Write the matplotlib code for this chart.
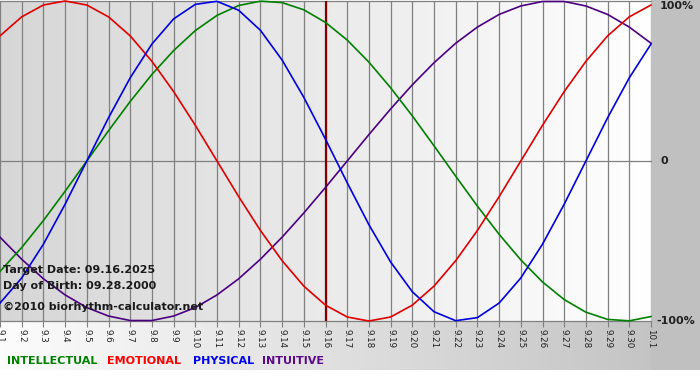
import matplotlib
matplotlib.use("Agg")
import matplotlib.pyplot as plt
import numpy as np

# days shown on the chart
days = ['9.1', '9.2', '9.3', '9.4', '9.5', '9.6', '9.7', '9.8', '9.9', '9.10',
        '9.11', '9.12', '9.13', '9.14', '9.15', '9.16', '9.17', '9.18', '9.19', '9.20',
        '9.21', '9.22', '9.23', '9.24', '9.25', '9.26', '9.27', '9.28', '9.29', '9.30', '10.1']
target_day = '9.16'

# cycle values per day (-1 .. 1)
physical = [-0.888, -0.731, -0.520, -0.270, 0.000, 0.270, 0.520, 0.731, 0.888, 0.979,
            0.998, 0.942, 0.817, 0.631, 0.398, 0.136, -0.136, -0.398, -0.631, -0.817,
            -0.942, -0.998, -0.979, -0.888, -0.731, -0.520, -0.270, 0.000, 0.270, 0.520, 0.731]
emotional = [0.782, 0.901, 0.975, 1.000, 0.975, 0.901, 0.782, 0.623, 0.434, 0.223,
             0.000, -0.223, -0.434, -0.623, -0.782, -0.901, -0.975, -1.000, -0.975, -0.901,
             -0.782, -0.623, -0.434, -0.223, 0.000, 0.223, 0.434, 0.623, 0.782, 0.901, 0.975]
intellectual = [-0.690, -0.541, -0.372, -0.189, 0.000, 0.189, 0.372, 0.541, 0.690, 0.815,
                0.910, 0.972, 0.999, 0.990, 0.945, 0.866, 0.756, 0.618, 0.458, 0.282,
                0.095, -0.095, -0.282, -0.458, -0.618, -0.756, -0.866, -0.945, -0.990, -0.999, -0.972]
intuitive = [-0.476, -0.614, -0.736, -0.837, -0.916, -0.969, -0.997, -0.997, -0.969, -0.916,
             -0.837, -0.736, -0.614, -0.476, -0.325, -0.165, 0.000, 0.165, 0.325, 0.476,
             0.614, 0.736, 0.837, 0.916, 0.969, 0.997, 0.997, 0.969, 0.916, 0.837, 0.736]

W, H = 700, 380
fig = plt.figure(figsize=(7, 3.8), dpi=100)
fig.patch.set_facecolor('white')

# background: grey right margin and gradient band under the plot
bg = fig.add_axes([0, 0, 1, 1], zorder=-5)
bg.set_xlim(0, W)
bg.set_ylim(H, 0)
bg.axis('off')
grad = np.linspace(0.99, 0.77, 256)
band = np.dstack([grad, grad, grad])[0][None, :, :]
bg.imshow(band, extent=(0, 651, 370, 321), aspect='auto', interpolation='bilinear')
bg.add_patch(plt.Rectangle((651, 0), 49, 370, color='#c0c0c0', lw=0))

ax = fig.add_axes([0, 59 / H, 651 / W, 320 / H])
x = np.arange(len(days))
ax.set_xlim(0, len(days) - 1)
ax.set_ylim(-1, 1)

# plot area gradient grey -> white
g = np.linspace(0.84, 1.0, 256)
ax.imshow(np.dstack([g, g, g]), extent=(0, len(days) - 1, -1, 1), aspect='auto',
          interpolation='bilinear', zorder=0)

for xi in x:
    ax.axvline(xi, color='#808080', lw=0.9, zorder=1)
for yv in (-1, 0, 1):
    ax.axhline(yv, color='#808080', lw=0.9, zorder=1, clip_on=False)

ax.axvline(days.index(target_day), color='#800000', lw=1.6, zorder=2)

ax.plot(x, intuitive, color='#4b0082', lw=1.2, zorder=3, clip_on=False)
ax.plot(x, intellectual, color='#008000', lw=1.2, zorder=3, clip_on=False)
ax.plot(x, emotional, color='#e00000', lw=1.2, zorder=3, clip_on=False)
ax.plot(x, physical, color='#0000e0', lw=1.2, zorder=3, clip_on=False)

for s in ax.spines.values():
    s.set_visible(False)
ax.set_xticks(x)
ax.set_xticklabels(days, rotation=-90, fontsize=6.3, color='#202020')
ax.tick_params(axis='x', length=4, color='#808080', pad=1.5)
ax.set_yticks([])

tr = ax.get_yaxis_transform()
ax.text(1.014, 1.0, '100%', transform=tr, ha='left', va='top', fontsize=8,
        fontweight='bold', color='#202020', clip_on=False)
ax.text(1.014, 0.0, '0', transform=tr, ha='left', va='center', fontsize=8,
        fontweight='bold', color='#202020', clip_on=False)
ax.text(1.008, -1.0, '-100%', transform=tr, ha='left', va='center', fontsize=8,
        fontweight='bold', color='#202020', clip_on=False)

# info texts over the plot
txt = dict(fontsize=8, fontweight='bold', color='#1a1a1a', va='center', zorder=10)
fig.text(3 / W, 1 - 270 / H, 'Target Date: 09.16.2025', **txt)
fig.text(3 / W, 1 - 286 / H, 'Day of Birth: 09.28.2000', **txt)
fig.text(3 / W, 1 - 307 / H, '\u00a92010 biorhythm-calculator.net', **txt)

# legend row
leg = [('INTELLECTUAL', '#008000', 7), ('EMOTIONAL', '#ff0000', 107),
       ('PHYSICAL', '#0000ee', 193), ('INTUITIVE', '#5a0a8c', 262)]
for name, col, px in leg:
    fig.text(px / W, 1 - 361 / H, name, color=col, fontsize=8, fontweight='bold',
             va='center')

fig.savefig('out.png', dpi=100)
